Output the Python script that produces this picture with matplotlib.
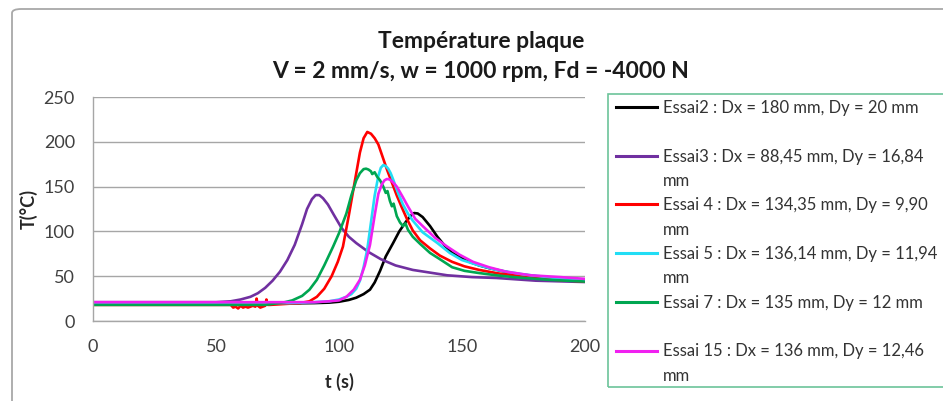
import matplotlib
matplotlib.use("Agg")
import matplotlib.pyplot as plt
from matplotlib.lines import Line2D
from matplotlib.patches import Rectangle, FancyBboxPatch

plt.rcParams['font.family'] = ['Lato', 'DejaVu Sans']

# ---------------- data ----------------
t_essai2 = [0, 60, 90, 96, 100, 104, 107, 110, 112.6, 114.5, 116.7, 119, 122, 124.5, 127, 129,
            130.5, 132, 134, 137, 140, 143, 146, 150, 153, 157, 161, 166, 171, 180, 190, 200]
T_essai2 = [19, 19, 20, 20.5, 21.5, 23.5, 26, 30, 35, 43, 56, 72, 87, 100, 110, 117,
            120.5, 120, 116, 106, 94, 84, 76, 70, 66, 62, 59, 56, 53, 50, 47, 44]

t_essai3 = [0, 50, 56, 60, 64, 67, 70, 73, 76, 79, 82, 85, 87, 89, 90.5, 92, 93.5, 95.5, 98,
            101, 104, 107, 112, 117, 123, 130, 137, 144, 154, 164, 180, 200]
T_essai3 = [21, 21, 22, 24, 27, 31, 37, 45, 55, 68, 85, 108, 125, 136, 140.5, 140.5, 137, 130, 118,
            104, 94, 87, 77, 69, 62, 57, 54, 51, 49, 48, 45, 43.5]

t_essai4 = [0, 56, 57, 58, 59, 60, 61, 62, 63, 64, 65, 66, 66.5, 67, 68, 69, 70, 70.5, 71, 72,
            78, 84, 88, 91, 94, 97, 99.5, 101.6, 104, 106.5, 108.5, 110, 111.5, 113, 114.5,
            116, 119.5, 123.5, 125.5, 127.6, 130, 133, 137, 141, 146, 151, 157, 165, 175,
            188, 200]
T_essai4 = [18, 18, 15, 16, 14, 17, 15, 16, 15, 16, 17, 16, 25, 17, 15, 16, 17, 24, 18, 18,
            19, 20, 22, 27, 36, 50, 66, 83, 118, 157, 188, 204, 211, 209, 204,
            197, 169, 140, 127, 114, 101, 90, 81, 73, 66, 61, 57, 53, 50,
            46, 44]

t_essai5 = [0, 80, 90, 96, 100, 103, 105, 107, 108.5, 110, 111.5, 113, 114.5, 116, 117, 118,
            119, 120, 121, 122, 124, 126, 128, 130, 134, 140, 145, 150, 157, 164, 175, 188, 200]
T_essai5 = [20, 20, 21, 22, 24, 27, 30, 36, 45, 60, 80, 110, 140, 162, 171, 174,
            173, 170, 165, 158, 143, 130, 120, 112, 99, 87, 76, 68, 62, 57, 52, 48, 45]

t_essai7 = [0, 70, 78, 81, 85, 88, 91, 94, 97.6, 100, 103, 105, 107, 108.5, 110, 111, 112,
            113, 113.5, 114.5, 115.5, 116.7, 118, 119, 119.7, 120.7, 121.5, 122.2, 123.5,
            124.8, 126, 127, 128, 130, 133, 137, 141, 146, 151, 157, 164, 171, 185, 200]
T_essai7 = [18, 18, 21, 23, 28, 35, 46, 62, 83, 98, 120, 140, 157, 165, 169.5, 170, 169,
            167, 164, 166, 161, 157, 150, 143, 145, 134, 128, 131, 117,
            110, 106, 109, 102, 94, 86, 76, 69, 60, 56, 53.5, 51, 49, 46, 44]

t_essai15 = [0, 90, 96, 100, 103, 106, 108.5, 110.5, 112.6, 114.5, 116, 117.5, 118.5, 119.5,
             120.5, 121.5, 123.5, 126, 128, 131, 134, 139, 144, 149, 154.5, 161, 168, 178,
             190, 200]
T_essai15 = [21, 21, 22, 23, 27, 35, 46, 62, 85, 118, 142, 153, 157, 158.5,
             158, 156, 150, 138, 128, 114, 106, 93, 83, 74, 66, 60, 55, 51,
             49, 47]

series_labels = [
    ["Essai2 : Dx = 180 mm, Dy = 20 mm", " "],
    ["Essai3 : Dx = 88,45 mm, Dy = 16,84", "mm"],
    ["Essai 4 : Dx = 134,35 mm, Dy = 9,90", "mm"],
    ["Essai 5 : Dx = 136,14 mm, Dy = 11,94", "mm"],
    ["Essai 7 : Dx = 135 mm, Dy = 12 mm", " "],
    ["Essai 15 : Dx = 136 mm, Dy = 12,46", "mm"],
]
series_colors = ["#000000", "#7030A0", "#FF0000", "#22DDF5", "#00A651", "#F020F0"]
series_t = [t_essai2, t_essai3, t_essai4, t_essai5, t_essai7, t_essai15]
series_T = [T_essai2, T_essai3, T_essai4, T_essai5, T_essai7, T_essai15]

x_ticks = [0, 50, 100, 150, 200]
y_ticks = [0, 50, 100, 150, 200, 250]
title_lines = ["Température plaque", "V = 2 mm/s, w = 1000 rpm, Fd = -4000 N"]
x_label = "t (s)"
y_label = "T(°C)"

# ---------------- figure ----------------
W, H = 943, 401
fig = plt.figure(figsize=(W / 100, H / 100), dpi=100)
fig.patch.set_facecolor("white")

# outer chart frame (cropped on right/bottom)
frame = FancyBboxPatch((12 / W, -0.2), 1.2, (H - 9) / H + 0.2,
                       boxstyle="round,pad=0,rounding_size=0.01",
                       transform=fig.transFigure, fill=False,
                       edgecolor="#A8A8A8", linewidth=1.3)
fig.add_artist(frame)

left, right, top, bottom = 93, 585, 97, 321
ax = fig.add_axes([left / W, 1 - bottom / H, (right - left) / W, (bottom - top) / H])

lines = []
for tt, TT, col in zip(series_t, series_T, series_colors):
    ln, = ax.plot(tt, TT, color=col, linewidth=1.9, solid_joinstyle="round")
    lines.append(ln)

ax.set_xlim(0, 200)
ax.set_ylim(0, 250)
ax.set_xticks(x_ticks)
ax.set_yticks(y_ticks)
ax.grid(axis="y", color="#A6A6A6", linewidth=1.0)
ax.set_axisbelow(True)
for s in ["top", "right"]:
    ax.spines[s].set_visible(False)
for s in ["left", "bottom"]:
    ax.spines[s].set_color("#A6A6A6")
    ax.spines[s].set_linewidth(1.0)
ax.tick_params(length=0, labelsize=13, labelcolor="#404040")
ax.tick_params(axis="x", pad=13)
ax.tick_params(axis="y", pad=13)

ax.set_xlabel(x_label, fontsize=13, fontweight="bold", color="#262626", labelpad=13)
ax.set_ylabel(y_label, fontsize=13, fontweight="bold", color="#262626", labelpad=4)

fig.text(481 / W, 1 - 42 / H, title_lines[0], ha="center", va="center",
         fontsize=16.5, fontweight="bold", color="#1a1a1a")
fig.text(481 / W, 1 - 72 / H, title_lines[1], ha="center", va="center",
         fontsize=16.5, fontweight="bold", color="#1a1a1a")

# legend box
fig.add_artist(Rectangle((608 / W, 1 - 387 / H), (W - 608 + 20) / W, (387 - 94) / H,
                         transform=fig.transFigure, fill=False,
                         edgecolor="#6CC49A", linewidth=1.2))
handles, labels = [], []
for ln, lab, col in zip(lines, series_labels, series_colors):
    handles.append(Line2D([], [], color=col, linewidth=2.2))
    labels.append(lab[0])
    handles.append(Line2D([], [], color="none"))
    labels.append(lab[1])
leg = fig.legend(handles, labels, loc="upper left",
                 bbox_to_anchor=(616 / W, 1 - 100 / H), frameon=False,
                 fontsize=12.0, borderpad=0, borderaxespad=0,
                 handlelength=41 / 16.7, handletextpad=6 / 16.7, labelspacing=0.5)
for txt in leg.get_texts():
    txt.set_color("#333333")

fig.savefig("out.png", dpi=100)
